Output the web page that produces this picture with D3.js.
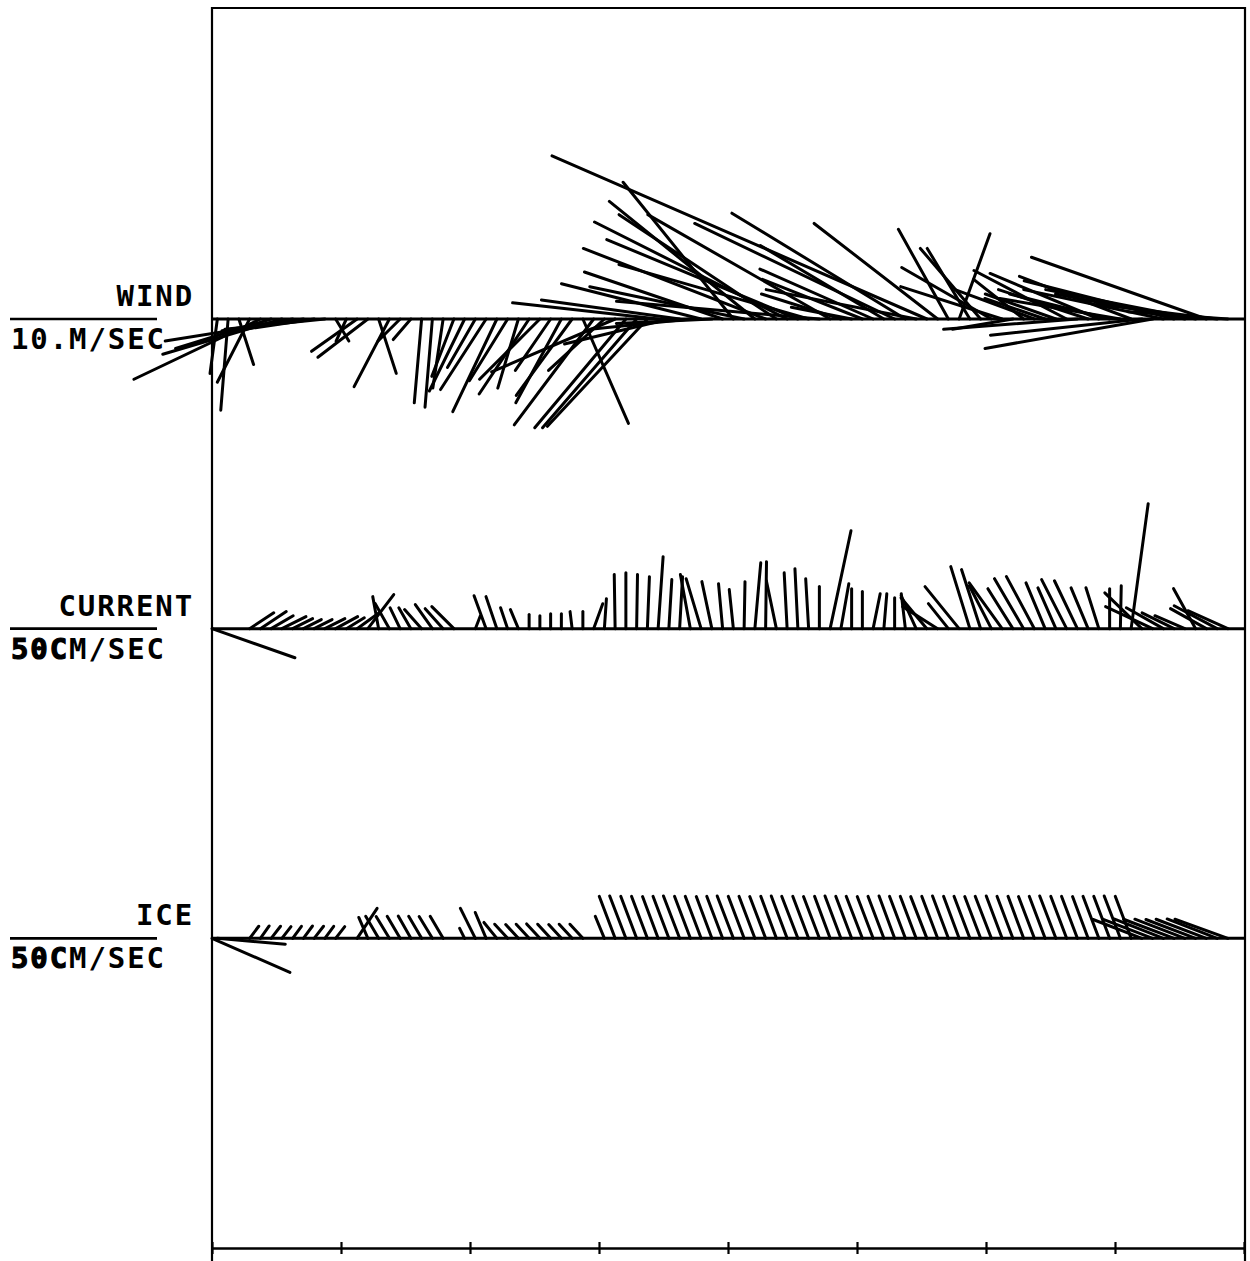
<!DOCTYPE html>
<html><head><meta charset="utf-8">
<script src="https://cdn.jsdelivr.net/npm/d3@7"></script>
<style>body{margin:0;background:#fff} svg{display:block}</style>
</head><body>
<script>
// Time of each sample, hours from start (2-hourly, plus the initial record)
const hours = [0,
 1,3,5,7,9,11,13,15,17,19,21,23,25,27,29,31,33,35,37,39,41,43,45,47,
 49,51,53,55,57,59,61,63,65,67,69,71,73,75,77,79,81,83,85,87,89,91,93,95,
 97,99,101,103,105,107,109,111,113,115,117,119,121,123,125,127,129,131,133,135,137,139,141,143,
 145,147,149,151,153,155,157,159,161,163,165,167,169,171,173,175,177,179,181,183,185,187,189,191];
const dayTicks = [0,24,48,72,96,120,144,168,192];

// WIND (m/s): east (u) and north (v) components
const windU = [null,
 -0.5,-0.5,1.0,-2.2,-8.6,-6.5,-8.1,-4.8,-9.4,-6.1,
 -6.8,0.9,-0.7,-3.1,-3.4,1.2,-2.4,-1.5,-1.2,-0.5,
 -0.5,-0.7,-1.5,-2.4,-1.9,-3.1,-3.0,-2.6,-1.4,-3.4,
 -4.1,-2.4,-3.1,-3.8,3.1,-5.4,-3.8,-8.4,-6.2,-6.4,
 -6.8,-9.9,-7.1,-9.4,-6.8,-9.5,-6.5,-9.4,-7.5,-10.5,
 -9.9,-12.4,-10.7,-13.1,-13.0,-12.9,-13.8,-12.4,-5.4,-4.1,
 -6.8,-7.7,-8.4,-13.6,-11.8,-10.2,-25.5,-8.4,-3.4,2.1,
 -2.9,-4.1,-6.1,-6.9,-4.1,-3.4,-5.4,-4.1,-4.8,-6.3,
 -9.1,-6.1,-7.4,-6.8,-8.2,-7.6,-10.3,-11.4,-9.5,-10.2,
 -8.8,-10.2,-11.9,-8.2,-6.8,null];
const windV = [null,
 -3.7,-6.2,-3.1,-4.3,-4.1,-2.0,-2.4,-0.8,-1.5,-0.9,
 -0.7,-1.5,-1.5,-2.2,-2.6,-3.7,-4.6,-1.5,-1.4,-5.7,
 -6.0,-4.7,-3.9,-4.9,-3.3,-4.8,-6.3,-4.2,-4.7,-5.1,
 -4.1,-3.5,-5.7,-5.2,-7.1,-7.2,-3.5,-3.6,-7.4,-7.4,
 -7.3,1.1,-1.7,1.3,-0.7,2.4,-0.3,3.2,9.3,2.2,
 8.0,4.8,7.1,6.6,5.4,3.7,1.2,7.1,1.7,0.8,
 2.7,3.4,5.0,6.5,7.2,2.0,11.1,6.5,6.1,5.8,
 4.8,4.8,3.5,2.2,-0.7,2.7,2.0,1.4,1.7,3.3,
 -0.7,2.0,3.1,1.7,1.4,2.9,-1.1,-2.0,2.0,2.6,
 1.7,2.0,4.2,1.0,0.5,null];

// CURRENT (cm/s)
const currentU = [28.2,
 null,null,null,8.2,8.8,7.5,8.2,6.8,6.1,6.1,
 6.8,7.5,6.1,7.5,8.8,-2.0,-4.8,-3.4,-4.1,-5.8,
 -5.8,-6.1,-7.5,null,1.7,-4.1,-3.7,-2.4,-2.7,0.0,
 0.0,0.0,0.0,-0.7,0.0,3.1,0.7,-0.3,0.0,0.3,
 0.7,1.7,1.0,1.0,-3.4,-5.1,-3.4,-1.4,-1.4,0.3,
 2.0,0.3,-3.4,-1.0,-1.0,-1.0,0.0,7.1,2.7,0.0,
 0.0,2.4,1.0,0.0,-1.4,-5.1,-8.8,-11.9,-6.8,-11.6,
 -6.5,-6.5,-7.5,-11.2,-8.5,-9.9,-9.5,-6.5,-6.1,-8.5,
 -7.8,-5.8,-4.4,0.0,0.3,5.8,-12.6,-16.0,-12.6,-10.9,
 -10.2,-7.5,-12.2,-14.6,-13.6,null];
const currentV = [-9.9,
 null,null,null,5.4,5.8,4.4,4.1,3.4,3.1,3.1,
 3.4,4.1,3.7,5.4,11.6,10.9,8.5,7.1,7.1,6.5,
 8.2,6.8,7.5,null,4.4,11.2,10.9,7.1,6.5,4.8,
 4.4,5.1,5.1,5.8,5.8,8.5,10.2,18.4,19.0,18.4,
 17.7,24.5,16.7,17.7,18.4,17.0,16.0,15.3,13.3,16.0,
 22.4,22.8,16.3,19.0,20.4,17.0,14.3,33.3,15.3,13.6,
 12.6,11.9,11.9,10.5,11.9,11.2,10.5,7.5,8.5,14.3,
 21.1,20.1,14.6,15.6,13.6,17.0,17.7,15.6,13.9,16.7,
 16.3,13.9,13.9,13.6,14.6,42.5,12.2,7.5,7.1,5.4,
 4.4,13.6,6.8,7.8,6.1,null];

// ICE drift (cm/s)
const iceU = [26.5,
 23.1,null,null,3.1,3.0,3.2,3.1,3.0,3.1,3.2,
 3.0,3.1,null,6.8,-3.1,-4.4,-4.5,-4.4,-4.3,-4.4,
 -4.5,-4.4,null,-1.7,-5.1,-3.7,-4.4,-4.4,-4.3,-4.4,
 -4.5,-4.4,-4.3,-4.4,-4.4,null,-3.1,-5.4,-5.5,-5.4,
 -5.4,-5.3,-5.4,-5.5,-5.4,-5.4,-5.3,-5.4,-5.5,-5.4,
 -5.4,-5.4,-5.3,-5.4,-5.5,-5.4,-5.4,-5.3,-5.4,-5.4,
 -5.5,-5.4,-5.4,-5.3,-5.4,-5.4,-5.5,-5.4,-5.4,-5.3,
 -5.4,-5.4,-5.5,-5.4,-5.4,-5.3,-5.4,-5.4,-5.5,-5.4,
 -5.4,-5.3,-5.4,-5.4,-5.5,-5.4,-16.6,-17.0,-16.8,-17.2,
 -17.0,-16.9,-17.1,-17.0,-18.0,null];
const iceV = [-11.6,
 -2.0,null,null,4.1,4.2,4.1,4.0,4.1,4.2,4.1,
 4.1,4.0,null,10.2,7.1,7.5,7.4,7.5,7.6,7.5,
 7.4,7.5,null,3.4,10.2,8.8,5.4,4.8,4.7,4.8,
 4.9,4.8,4.7,4.8,4.8,null,7.5,14.3,14.4,14.3,
 14.3,14.2,14.3,14.4,14.3,14.3,14.2,14.3,14.4,14.3,
 14.3,14.2,14.3,14.4,14.3,14.3,14.2,14.3,14.4,14.3,
 14.3,14.2,14.3,14.4,14.3,14.3,14.2,14.3,14.4,14.3,
 14.3,14.2,14.3,14.4,14.3,14.3,14.2,14.3,14.4,14.3,
 14.3,14.2,14.3,14.3,14.4,14.3,6.4,6.5,6.6,6.5,
 6.5,6.4,6.5,6.6,6.5,null];

const panelNames = ["WIND", "CURRENT", "ICE"];
const unitLabels = [["10.M/SEC", ""], ["50", "CM/SEC"], ["50", "CM/SEC"]];
const refSpeeds = [10, 50, 50];
const seriesU = [windU, currentU, iceU];
const seriesV = [windV, currentV, iceV];

const W = 1250, H = 1261;
const svg = d3.select("body").append("svg").attr("width", W).attr("height", H);

const x = d3.scaleLinear().domain([0, 192]).range([212, 1244]);
const rowY = d3.scaleLinear().domain([0, 3]).range([319, 1248]);
const barLen = 147;
const ink = "#000";
const font = "'DejaVu Sans Mono', monospace";

// frame
svg.append("path")
  .attr("d", `M212,${H} V8 H1245 V${H}`)
  .attr("fill", "none").attr("stroke", ink).attr("stroke-width", 2.2);

panelNames.forEach((name, p) => {
  const y0 = rowY(p);
  const s = d3.scaleLinear().domain([0, refSpeeds[p]]).range([0, barLen]);
  const data = hours.map((t, i) => ({t, u: seriesU[p][i], v: seriesV[p][i]}))
                    .filter(d => d.u != null && d.v != null);
  const g = svg.append("g");
  // baseline
  g.append("line").attr("x1", 212).attr("x2", 1245).attr("y1", y0).attr("y2", y0)
    .attr("stroke", ink).attr("stroke-width", 3);
  // sticks
  g.selectAll("line.stick").data(data).join("line").attr("class", "stick")
    .attr("x1", d => x(d.t)).attr("y1", y0)
    .attr("x2", d => x(d.t) + s(d.u)).attr("y2", d => y0 - s(d.v))
    .attr("stroke", ink).attr("stroke-width", 3).attr("stroke-linecap", "round");
  // scale bar
  g.append("line").attr("x1", 10).attr("x2", 10 + barLen).attr("y1", y0).attr("y2", y0)
    .attr("stroke", ink).attr("stroke-width", 2.6);
  // name label
  g.append("text").attr("x", 194).attr("y", y0 - 13)
    .attr("text-anchor", "end").attr("font-family", font).attr("font-size", 29)
    .attr("font-weight", "bold").attr("letter-spacing", 1.9).attr("fill", ink).text(name);
  // unit label
  const ut = g.append("text").attr("x", 11).attr("y", y0 + 30)
    .attr("font-family", font).attr("font-size", 29).attr("font-weight", "bold")
    .attr("letter-spacing", 1.9).attr("fill", ink);
  const [a, b] = unitLabels[p];
  if (b) {
    ut.append("tspan").attr("stroke", ink).attr("stroke-width", 1.2).text(a + b.slice(0, 1));
    ut.append("tspan").text(b.slice(1));
  } else {
    ut.text(a);
  }
});

// bottom time axis
const axis = d3.axisBottom(x).tickValues(dayTicks).tickSize(6).tickSizeOuter(0).tickFormat("");
const ag = svg.append("g").attr("transform", `translate(0,${rowY(3)})`).call(axis);
ag.select(".domain").attr("stroke", ink).attr("stroke-width", 2.6);
ag.selectAll(".tick line").attr("y1", -6).attr("y2", 6).attr("stroke", ink).attr("stroke-width", 2.2);
</script>
</body></html>
